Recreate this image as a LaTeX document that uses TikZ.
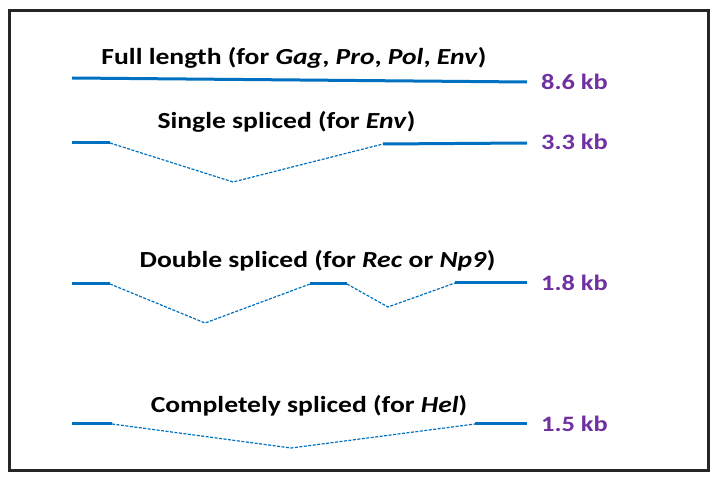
\documentclass[tikz,border=0pt]{standalone}
\usepackage{fontspec}
\setmainfont{Carlito}
\definecolor{exonblue}{RGB}{0,112,192}
\definecolor{kbpurple}{RGB}{112,48,160}
\newcommand{\wide}[1]{\scalebox{1.2}[1]{#1}}
\begin{document}
\begin{tikzpicture}[x=1pt,y=-1pt,
  exon/.style={exonblue,line width=3pt},
  intron/.style={exonblue,line width=1.2pt,dash pattern=on 3pt off 1.5pt},
  title/.style={font=\bfseries\fontsize{23}{26}\selectfont,anchor=base,inner sep=0pt},
  kb/.style={font=\bfseries\fontsize{22}{25}\selectfont,text=kbpurple,anchor=base west,inner sep=0pt}]
\useasboundingbox (0,0) rectangle (716,481);
\draw[line width=3pt,black!85] (9,11) rectangle (708,471);
% Full length
\node[title] (t1) at (294,65) {\wide{Full length (for \textit{Gag}, \textit{Pro}, \textit{Pol}, \textit{Env})}};
\coordinate (a1) at (72,78);
\coordinate (a2) at (527,82);
\draw[exon] (a1) -- (a2);
\node[kb] (k1) at (541,90) {\wide{8.6 kb}};
% Single
\node[title] (t2) at (286.5,129) {\wide{Single spliced (for \textit{Env})}};
\coordinate (b1) at (72,143);
\coordinate (b2) at (110,143);
\coordinate (b3) at (233,182);
\coordinate (b4) at (383,144);
\coordinate (b5) at (527,143);
\draw[exon] (b1) -- (b2);
\draw[intron] (b2) -- (b3) -- (b4);
\draw[exon] (b4) -- (b5);
\node[kb] (k2) at (541,150) {\wide{3.3 kb}};
% Double
\node[title] (t3) at (317.5,268) {\wide{Double spliced (for \textit{Rec} or \textit{Np9})}};
\coordinate (c1) at (72,284);
\coordinate (c2) at (110,284);
\coordinate (c3) at (205,323);
\coordinate (c4) at (310,284);
\coordinate (c5) at (347,284);
\coordinate (c6) at (388,307);
\coordinate (c7) at (455,283);
\coordinate (c8) at (527,283);
\draw[exon] (c1) -- (c2);
\draw[intron] (c2) -- (c3) -- (c4);
\draw[exon] (c4) -- (c5);
\draw[intron] (c5) -- (c6) -- (c7);
\draw[exon] (c7) -- (c8);
\node[kb] (k3) at (541,291) {\wide{1.8 kb}};
% Completely
\node[title] (t4) at (309,413) {\wide{Completely spliced (for \textit{Hel})}};
\coordinate (d1) at (72,424);
\coordinate (d2) at (112,424);
\coordinate (d3) at (291,448);
\coordinate (d4) at (475,424);
\coordinate (d5) at (527,424);
\draw[exon] (d1) -- (d2);
\draw[intron] (d2) -- (d3) -- (d4);
\draw[exon] (d4) -- (d5);
\node[kb] (k4) at (541,432) {\wide{1.5 kb}};
\end{tikzpicture}
\end{document}
